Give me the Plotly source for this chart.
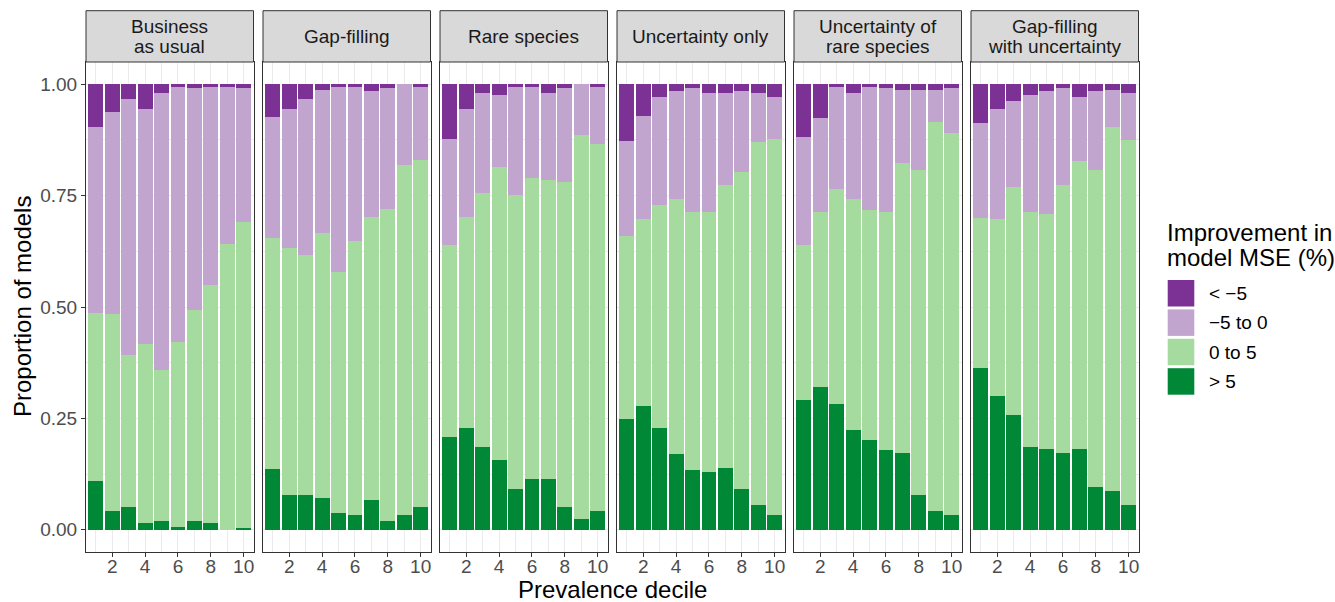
import plotly.graph_objects as go

# ---------------- data ----------------
deciles = [1, 2, 3, 4, 5, 6, 7, 8, 9, 10]
x_tick_vals = [2, 4, 6, 8, 10]
y_tick_vals = [0, 0.25, 0.5, 0.75, 1.0]
y_tick_text = ["0.00", "0.25", "0.50", "0.75", "1.00"]

panels = ["Business<br>as usual", "Gap-filling", "Rare species",
          "Uncertainty only", "Uncertainty of<br>rare species",
          "Gap-filling<br>with uncertainty"]

categories = ["> 5", "0 to 5", "\u22125 to 0", "< \u22125"]   # stacking order bottom -> top
legend_order = ["< \u22125", "\u22125 to 0", "0 to 5", "> 5"]
legend_title = ["Improvement in", "model MSE (%)"]

# proportions per panel (one list per category, deciles 1..10)
business_gt5   = [0.109, 0.042, 0.050, 0.016, 0.020, 0.007, 0.020, 0.016, 0.000, 0.004]
business_0to5  = [0.378, 0.443, 0.343, 0.402, 0.339, 0.415, 0.474, 0.533, 0.642, 0.687]
business_m5to0 = [0.418, 0.452, 0.573, 0.527, 0.621, 0.574, 0.498, 0.447, 0.351, 0.301]
business_ltm5  = [0.095, 0.063, 0.034, 0.055, 0.020, 0.004, 0.008, 0.004, 0.007, 0.008]

gapfill_gt5   = [0.136, 0.079, 0.079, 0.071, 0.037, 0.034, 0.067, 0.020, 0.034, 0.050]
gapfill_0to5  = [0.518, 0.554, 0.537, 0.596, 0.541, 0.615, 0.634, 0.701, 0.785, 0.781]
gapfill_m5to0 = [0.273, 0.312, 0.350, 0.320, 0.418, 0.347, 0.283, 0.271, 0.181, 0.165]
gapfill_ltm5  = [0.073, 0.055, 0.034, 0.013, 0.004, 0.004, 0.016, 0.008, 0.000, 0.004]

rare_gt5   = [0.209, 0.228, 0.186, 0.156, 0.092, 0.113, 0.113, 0.050, 0.025, 0.042]
rare_0to5  = [0.431, 0.473, 0.569, 0.659, 0.659, 0.676, 0.672, 0.731, 0.861, 0.823]
rare_m5to0 = [0.238, 0.244, 0.225, 0.160, 0.242, 0.204, 0.195, 0.211, 0.114, 0.131]
rare_ltm5  = [0.122, 0.055, 0.020, 0.025, 0.007, 0.007, 0.020, 0.008, 0.000, 0.004]

unc_gt5   = [0.249, 0.278, 0.228, 0.169, 0.135, 0.130, 0.139, 0.092, 0.055, 0.034]
unc_0to5  = [0.410, 0.419, 0.502, 0.574, 0.579, 0.584, 0.634, 0.710, 0.815, 0.844]
unc_m5to0 = [0.214, 0.232, 0.241, 0.241, 0.278, 0.266, 0.207, 0.182, 0.110, 0.093]
unc_ltm5  = [0.127, 0.071, 0.029, 0.016, 0.008, 0.020, 0.020, 0.016, 0.020, 0.029]

uncrare_gt5   = [0.291, 0.321, 0.282, 0.224, 0.202, 0.178, 0.173, 0.079, 0.042, 0.034]
uncrare_0to5  = [0.349, 0.393, 0.482, 0.519, 0.516, 0.536, 0.650, 0.728, 0.874, 0.857]
uncrare_m5to0 = [0.242, 0.210, 0.232, 0.237, 0.278, 0.278, 0.164, 0.180, 0.071, 0.101]
uncrare_ltm5  = [0.118, 0.076, 0.004, 0.020, 0.004, 0.008, 0.013, 0.013, 0.013, 0.008]

gapunc_gt5   = [0.363, 0.300, 0.258, 0.186, 0.181, 0.173, 0.181, 0.097, 0.088, 0.055]
gapunc_0to5  = [0.337, 0.397, 0.511, 0.528, 0.528, 0.600, 0.647, 0.710, 0.815, 0.819]
gapunc_m5to0 = [0.214, 0.248, 0.194, 0.261, 0.275, 0.219, 0.143, 0.177, 0.084, 0.106]
gapunc_ltm5  = [0.086, 0.055, 0.037, 0.025, 0.016, 0.008, 0.029, 0.016, 0.013, 0.020]

panel_data = [
    [business_gt5, business_0to5, business_m5to0, business_ltm5],
    [gapfill_gt5, gapfill_0to5, gapfill_m5to0, gapfill_ltm5],
    [rare_gt5, rare_0to5, rare_m5to0, rare_ltm5],
    [unc_gt5, unc_0to5, unc_m5to0, unc_ltm5],
    [uncrare_gt5, uncrare_0to5, uncrare_m5to0, uncrare_ltm5],
    [gapunc_gt5, gapunc_0to5, gapunc_m5to0, gapunc_ltm5],
]

colors = {"> 5": "#008837", "0 to 5": "#A6DBA0",
          "\u22125 to 0": "#C2A5CF", "< \u22125": "#7B3294"}

# ---------------- layout geometry (pixels) ----------------
W, H = 1335, 602
FONT = "Liberation Sans, Arial, sans-serif"
panel_x0 = [86, 263, 440, 617, 794, 971]
panel_w = 167.5
plot_top, plot_bot = 62, 552
strip_top = 10.7


def px(x):
    return x / W


def py(y):
    return 1 - y / H


fig = go.Figure()

for i, series in enumerate(panel_data):
    ax = "" if i == 0 else str(i + 1)
    for cat, vals in zip(categories, series):
        fig.add_trace(go.Bar(
            x=deciles, y=vals, width=0.9, name=cat,
            marker=dict(color=colors[cat], line=dict(width=0)),
            xaxis="x" + ax, yaxis="y" + ax, showlegend=False,
        ))

layout = dict(
    width=W, height=H, barmode="stack",
    margin=dict(l=0, r=0, t=0, b=0),
    plot_bgcolor="white", paper_bgcolor="white",
    font=dict(family=FONT, size=19, color="#4D4D4D"),
    showlegend=False,
)

shapes = []
annotations = []
for i in range(6):
    ax = "" if i == 0 else str(i + 1)
    x0 = panel_x0[i]
    x1 = x0 + panel_w
    layout["xaxis" + ax] = dict(
        domain=[px(x0), px(x1)], range=[0.4, 10.6], anchor="y" + ax,
        tickvals=x_tick_vals, ticktext=[str(v) for v in x_tick_vals],
        ticks="outside", ticklen=4, tickwidth=1, tickcolor="#333333",
        ticklabelstandoff=-7,
        tickfont=dict(family=FONT, size=19, color="#4D4D4D"),
        showgrid=True, gridcolor="#EBEBEB", gridwidth=1.1,
        minor=dict(tickvals=[1, 3, 5, 7, 9], showgrid=True,
                   gridcolor="#EBEBEB", gridwidth=0.55, ticks=""),
        showline=True, linecolor="#333333", linewidth=1, mirror=True,
        zeroline=False, fixedrange=True,
    )
    layout["yaxis" + ax] = dict(
        domain=[py(plot_bot), py(plot_top)], range=[-0.05, 1.05], anchor="x" + ax,
        tickvals=y_tick_vals, ticktext=y_tick_text,
        showticklabels=(i == 0),
        ticks="outside" if i == 0 else "", ticklen=4, tickwidth=1, tickcolor="#333333",
        tickfont=dict(family=FONT, size=19, color="#4D4D4D"),
        showgrid=True, gridcolor="#EBEBEB", gridwidth=1.1,
        minor=dict(tickvals=[0.125, 0.375, 0.625, 0.875], showgrid=True,
                   gridcolor="#EBEBEB", gridwidth=0.55, ticks=""),
        showline=True, linecolor="#333333", linewidth=1, mirror=True,
        zeroline=False, fixedrange=True,
    )
    # strip
    shapes.append(dict(type="rect", xref="paper", yref="paper",
                       x0=px(x0), x1=px(x1), y0=py(plot_top), y1=py(strip_top),
                       fillcolor="#D9D9D9", line=dict(color="#333333", width=1)))
    lines = panels[i].split("<br>")
    mid = (plot_top + strip_top) / 2
    step = 19.5
    for j, line in enumerate(lines):
        yc = mid + (j - (len(lines) - 1) / 2) * step
        annotations.append(dict(xref="paper", yref="paper",
                                x=px(x0 + panel_w / 2), y=py(yc),
                                text=line, showarrow=False,
                                xanchor="center", yanchor="middle",
                                font=dict(family=FONT, size=19, color="#1A1A1A")))

# axis titles
annotations.append(dict(xref="paper", yref="paper", x=px((86 + 1138.5) / 2), y=py(589.5),
                        text="Prevalence decile", showarrow=False,
                        xanchor="center", yanchor="middle",
                        font=dict(family=FONT, size=24, color="black")))
annotations.append(dict(xref="paper", yref="paper", x=px(22), y=py(307),
                        text="Proportion of models", showarrow=False, textangle=-90,
                        xanchor="center", yanchor="middle",
                        font=dict(family=FONT, size=24, color="black")))

# legend (drawn manually to mimic ggplot keys)
for j, line in enumerate(legend_title):
    annotations.append(dict(xref="paper", yref="paper", x=px(1165), y=py(232 + j * 25),
                            text=line, showarrow=False,
                            xanchor="left", yanchor="middle", align="left",
                            font=dict(family=FONT, size=24, color="black")))
key_x0, key_x1 = 1167.7, 1194.3
key_y0 = 280
key_step = 29.4
for k, cat in enumerate(legend_order):
    y0 = key_y0 + k * key_step
    shapes.append(dict(type="rect", xref="paper", yref="paper",
                       x0=px(key_x0), x1=px(key_x1), y0=py(y0 + 26.5), y1=py(y0),
                       fillcolor=colors[cat], line=dict(width=0)))
    annotations.append(dict(xref="paper", yref="paper", x=px(1207), y=py(y0 + 13.3),
                            text=cat, showarrow=False, xanchor="left", yanchor="middle",
                            font=dict(family=FONT, size=19, color="black")))

layout["shapes"] = shapes
layout["annotations"] = annotations
fig.update_layout(**layout)

fig.write_html(
    "out.html",
    config={"displayModeBar": False},
    post_script="document.body.style.margin='0';document.body.style.padding='0';"
                "document.body.style.overflow='hidden';",
)
